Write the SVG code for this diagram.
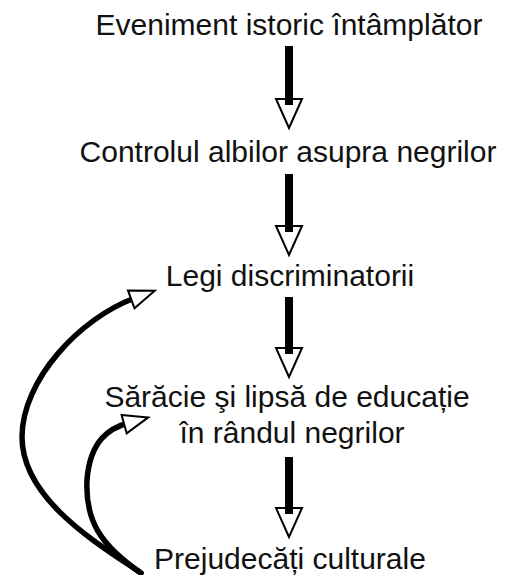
<svg xmlns="http://www.w3.org/2000/svg" width="507" height="575" viewBox="0 0 507 575">
<style>
.lbl{font-family:"Liberation Sans",Arial,sans-serif;font-size:30px;fill:#111;text-anchor:middle}
.shaft{stroke:#000;stroke-width:8;fill:none}
.curve{stroke:#000;stroke-width:5.5;fill:none;stroke-linecap:round}
</style>
<defs>
<marker id="vhead" markerUnits="userSpaceOnUse" markerWidth="40" markerHeight="40" refX="6" refY="0" orient="auto" overflow="visible">
<path d="M0,-13 L29,0 L0,13 Z" fill="none" stroke="#000" stroke-width="2" stroke-linejoin="miter"/>
</marker>
<marker id="chead" markerUnits="userSpaceOnUse" markerWidth="40" markerHeight="40" refX="4" refY="0" orient="auto" overflow="visible">
<path d="M0,-9.5 L25,0 L0,9.5 Z" fill="#fff" stroke="#000" stroke-width="2"/>
</marker>
</defs>
<g id="n1"><text class="lbl" x="289" y="35">Eveniment istoric întâmplător</text></g>
<g id="n2"><text class="lbl" x="288" y="162">Controlul albilor asupra negrilor</text></g>
<g id="n3"><text class="lbl" x="290" y="286">Legi discriminatorii</text></g>
<g id="n4"><text class="lbl" x="287" y="407">Sărăcie şi lipsă de educație</text><text class="lbl" x="292" y="443">în rândul negrilor</text></g>
<g id="n5"><text class="lbl" x="290" y="569">Prejudecăți culturale</text></g>
<g id="connectors">
<path class="shaft" d="M289,46 V105" marker-end="url(#vhead)"/>
<path class="shaft" d="M289,174 V232" marker-end="url(#vhead)"/>
<path class="shaft" d="M289,297 V354" marker-end="url(#vhead)"/>
<path class="shaft" d="M289,457 V514" marker-end="url(#vhead)"/>
<path class="curve" d="M141,573 C100,545 22,500 22,437 C22,380 80,318 135,298" marker-end="url(#chead)"/>
<path class="curve" d="M141,573 C100,545 85,520 87,480 C90,440 110,428 128,423" marker-end="url(#chead)"/>
</g>
</svg>
